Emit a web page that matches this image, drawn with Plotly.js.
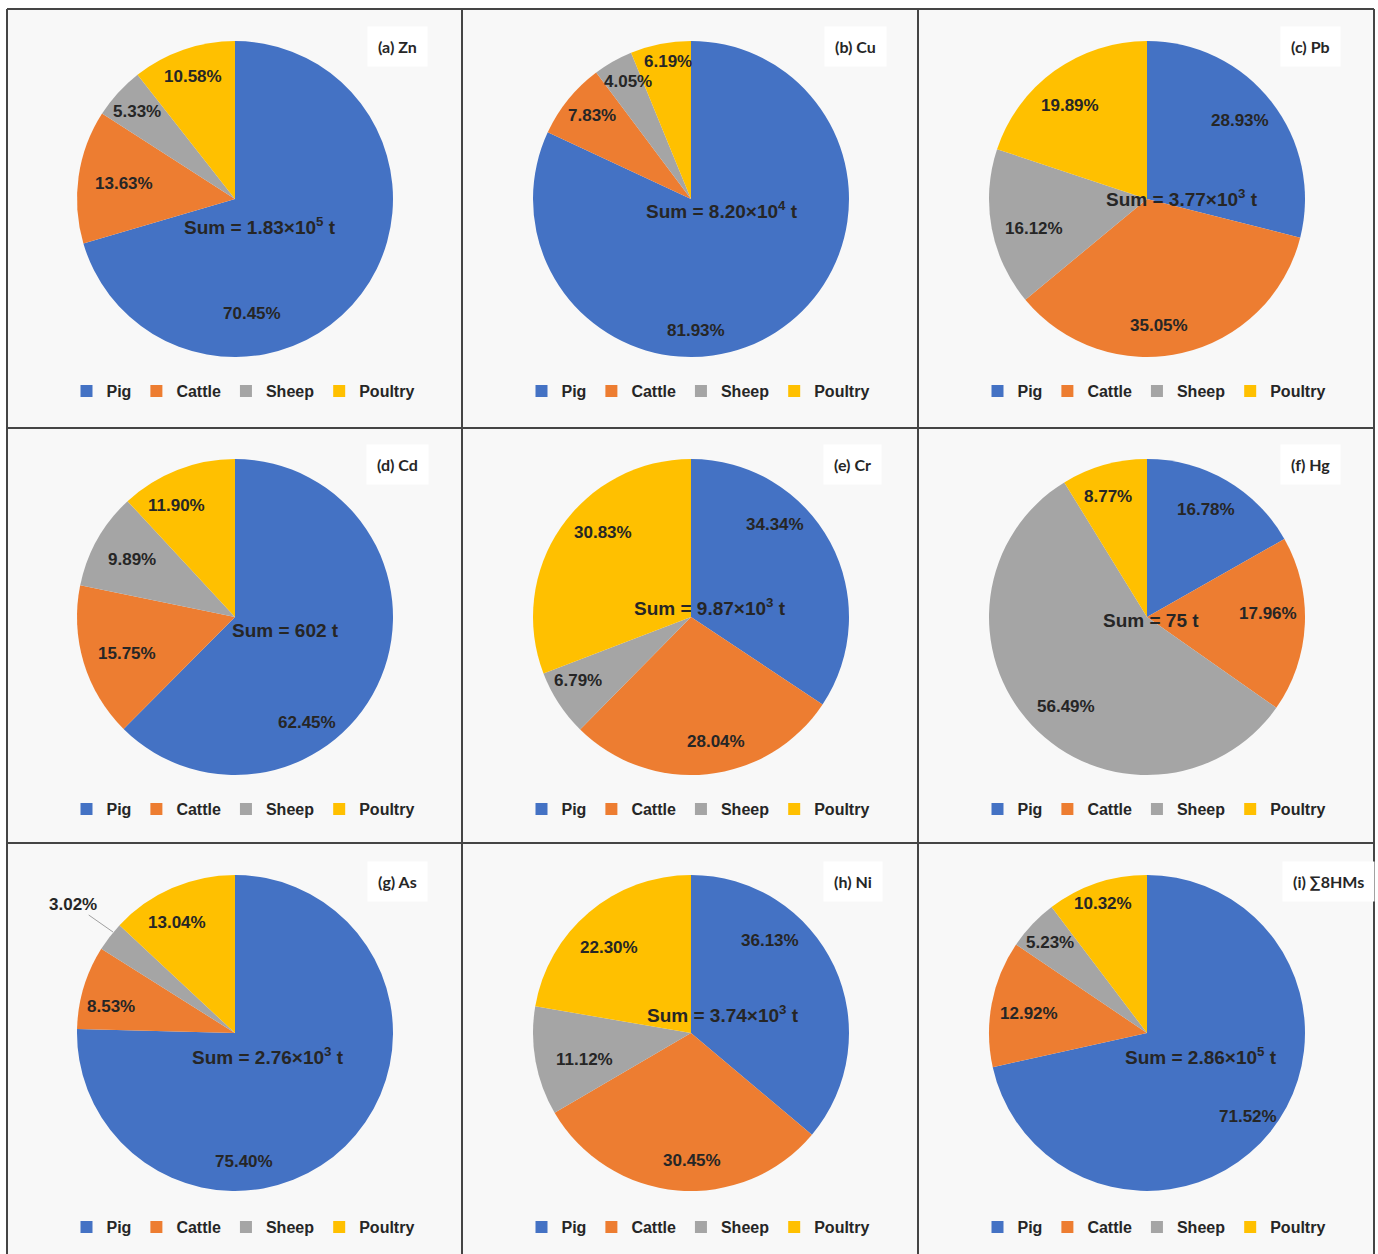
<!DOCTYPE html>
<html>
<head>
<meta charset="utf-8">
<script src="https://cdn.plot.ly/plotly-3.0.1.min.js"></script>
<style>html,body{margin:0;padding:0;background:#fff;}#chart{width:1378px;height:1254px;}</style>
</head>
<body>
<div id="chart"></div>
<script>
// ---- data ----
const categories = ["Pig", "Cattle", "Sheep", "Poultry"];
const panelTitles = ["(a) Zn", "(b) Cu", "(c) Pb", "(d) Cd", "(e) Cr", "(f) Hg", "(g) As", "(h) Ni", "(i) \u22118HMs"];
const sumLabels = [
  "Sum = 1.83\u00d710<sup>5</sup> t",
  "Sum = 8.20\u00d710<sup>4</sup> t",
  "Sum = 3.77\u00d710<sup>3</sup> t",
  "Sum = 602 t",
  "Sum = 9.87\u00d710<sup>3</sup> t",
  "Sum = 75 t",
  "Sum = 2.76\u00d710<sup>3</sup> t",
  "Sum = 3.74\u00d710<sup>3</sup> t",
  "Sum = 2.86\u00d710<sup>5</sup> t"
];
const zn = [70.45, 13.63, 5.33, 10.58];
const cu = [81.93, 7.83, 4.05, 6.19];
const pb = [28.93, 35.05, 16.12, 19.89];
const cd = [62.45, 15.75, 9.89, 11.90];
const cr = [34.34, 28.04, 6.79, 30.83];
const hg = [16.78, 17.96, 56.49, 8.77];
const as = [75.40, 8.53, 3.02, 13.04];
const ni = [36.13, 30.45, 11.12, 22.30];
const hms = [71.52, 12.92, 5.23, 10.32];
const series = [zn, cu, pb, cd, cr, hg, as, ni, hms];

// ---- layout constants (positions in page pixels) ----
const W = 1378, H = 1254;
const colors = ["#4472C4", "#ED7D31", "#A5A5A5", "#FFC000"];
const colCenters = [235, 691, 1147];
const rowCenters = [199, 617, 1033];
const R = 158;
const colEdges = [7, 462, 918, 1374];
const rowEdges = [9, 428, 843, 1262];
const legendY = [391, 809, 1227];
const legendX = [243, 698, 1154];
const sumPos = [[260,226],[722,210],[1182,198],[285,630],[710,607],[1151,620],[268,1056],[723,1014],[1201,1056]];
const titlePos = [[397,46],[855,46],[1310,46],[397,464],[853,464],[1310,464],[397,881],[853,881],[1328,881]];
// data-label centres, per panel, in category order
const labelPos = [
  [[252,313],[124,184],[137,112],[193,77]],
  [[696,331],[592,116],[628,81],[668,61]],
  [[1240,121],[1159,325],[1034,229],[1070,106]],
  [[307,722],[127,653],[132,559],[176,506]],
  [[775,524],[716,741],[578,680],[603,532]],
  [[1206,509],[1268,613],[1066,706],[1108,497]],
  [[244,1161],[111,1006],[73,904],[177,922]],
  [[770,940],[692,1160],[584,1059],[609,947]],
  [[1248,1116],[1029,1013],[1050,943],[1103,903]]
];

const px = x => x / W;
const py = y => 1 - y / H;
const FONT = "Liberation Sans, Arial, sans-serif";

const traces = [];
const annotations = [];
const shapes = [];
const layout = {
  width: W, height: H,
  margin: {l:0, r:0, t:0, b:0},
  paper_bgcolor: "#ffffff",
  font: {family: FONT, color: "#262626"},
  annotations: annotations,
  shapes: shapes
};

// panel backgrounds
for (let r = 0; r < 3; r++) {
  for (let c = 0; c < 3; c++) {
    shapes.push({type:"rect", xref:"paper", yref:"paper", layer:"below",
      x0: px(colEdges[c]), x1: px(colEdges[c+1]), y0: py(rowEdges[r+1]), y1: py(rowEdges[r]),
      fillcolor:"#f8f8f8", line:{width:0}});
  }
}
// grid border lines
colEdges.forEach(x => shapes.push({type:"line", xref:"paper", yref:"paper", layer:"above",
  x0: px(x), x1: px(x), y0: py(rowEdges[3]), y1: py(rowEdges[0]), line:{color:"#454545", width:2}}));
rowEdges.slice(0,3).forEach(y => shapes.push({type:"line", xref:"paper", yref:"paper", layer:"above",
  x0: px(colEdges[0]), x1: px(colEdges[3]), y0: py(y), y1: py(y), line:{color:"#454545", width:2}}));

series.forEach((vals, i) => {
  const r = Math.floor(i / 3), c = i % 3;
  const cx = colCenters[c], cy = rowCenters[r];
  const legName = i === 0 ? "legend" : "legend" + (i + 1);
  traces.push({
    type: "pie",
    labels: categories,
    values: vals,
    sort: false,
    direction: "clockwise",
    rotation: 0,
    marker: {colors: colors, line: {width: 0}},
    textinfo: "none",
    hoverinfo: "none",
    domain: {x: [px(cx - R), px(cx + R)], y: [py(cy + R), py(cy - R)]},
    legend: legName,
    legendgroup: "grp" + i,
    showlegend: true
  });
  layout[legName] = {
    orientation: "h", x: px(legendX[c]), xanchor: "center", y: py(legendY[r]), yanchor: "middle",
    bgcolor: "rgba(0,0,0,0)", font: {family: FONT, size: 16, color: "#262626", weight: "bold"},
    itemwidth: 30, traceorder: "normal"
  };
  // percentage data labels
  vals.forEach((v, k) => {
    const p = labelPos[i][k];
    const isOut = (i === 6 && k === 2);
    const ann = {
      xref: "paper", yref: "paper", x: px(p[0]), y: py(p[1]), xanchor: "center", yanchor: "middle",
      text: v.toFixed(2) + "%", showarrow: false,
      font: {family: FONT, size: 17, color: "#262626", weight: "bold"}
    };
    if (isOut) {
      // leader line from label to the sheep slice edge
      ann.x = px(113); ann.y = py(932);
      ann.showarrow = true; ann.arrowhead = 0; ann.arrowwidth = 1; ann.arrowcolor = "#a0a0a0";
      ann.ax = p[0] - 113; ann.ay = p[1] - 932; ann.axref = "pixel"; ann.ayref = "pixel";
      ann.standoff = 0; ann.startstandoff = 0;
    }
    annotations.push(ann);
  });
  annotations.push({
    xref: "paper", yref: "paper", x: px(sumPos[i][0]), y: py(sumPos[i][1]), xanchor: "center", yanchor: "middle",
    text: sumLabels[i], showarrow: false,
    font: {family: FONT, size: 19, color: "#262626", weight: "bold"}
  });
  annotations.push({
    xref: "paper", yref: "paper", x: px(titlePos[i][0]), y: py(titlePos[i][1]), xanchor: "center", yanchor: "middle",
    text: panelTitles[i], showarrow: false, bgcolor: "#ffffff", borderpad: 10,
    font: {family: "Lato, Liberation Sans, sans-serif", size: 16, color: "#262626", weight: "bold"}
  });
});

Plotly.newPlot("chart", traces, layout, {displayModeBar: false, staticPlot: true});
</script>
</body>
</html>
